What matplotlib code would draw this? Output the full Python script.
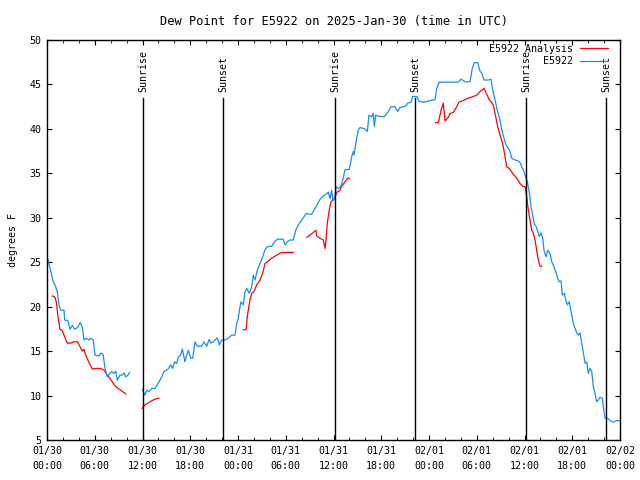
import pandas as pd
import matplotlib
matplotlib.use("Agg")
import matplotlib.pyplot as plt
import matplotlib.dates as mdates
from matplotlib.ticker import MultipleLocator
from matplotlib.transforms import blended_transform_factory

plt.rcParams['font.family'] = ['DejaVu Sans Mono']
plt.rcParams['font.size'] = 7.2

start = pd.Timestamp("2025-01-30 00:00")

# observed dew point (hours since 01/30 00:00 UTC, degrees F)
obs1_h = [0.0, 0.13, 0.54, 0.75, 1.09, 1.29, 1.51, 1.72, 2.14, 2.22, 2.64, 2.89, 3.18, 3.48,
          3.89, 4.15, 4.44, 4.65, 4.94, 5.28, 5.49, 5.82, 6.03, 6.53, 6.82, 7.07, 7.29, 7.58,
          7.92, 8.13, 8.42, 8.63, 8.83, 9.17, 9.46, 9.68, 9.89, 10.18, 10.39]
obs1_v = [25.7, 25.3, 23.75, 22.9, 22.25, 21.7, 20.2, 19.6, 19.6, 18.5, 18.4, 17.45, 17.9, 17.45,
          17.7, 18.2, 17.7, 16.25, 16.45, 16.25, 16.45, 16.25, 14.55, 14.45, 14.8, 14.55, 13.05, 12.1,
          12.5, 12.7, 12.5, 12.75, 11.75, 12.3, 12.3, 12.55, 12.1, 12.3, 12.6]

obs2_h = [11.98, 12.31, 12.53, 12.82, 13.16, 13.57, 13.99, 14.41, 14.70, 15.24, 15.54, 15.80,
          16.0, 16.30, 16.50, 16.80, 17.0, 17.34, 17.55, 17.76, 18.06, 18.31, 18.60, 18.89,
          19.44, 19.73, 20.07, 20.36, 20.61, 20.90, 21.11, 21.40, 21.65, 21.95, 22.37, 22.78,
          23.21, 23.62, 23.84, 24.04, 24.25, 24.38, 24.67, 24.88, 25.09, 25.42, 25.72, 25.92,
          26.14, 26.43, 26.77, 27.10, 27.39, 27.68, 28.24, 28.52, 28.94, 29.69, 29.91, 30.20,
          30.54, 30.95, 31.25, 31.58, 32.01, 32.29, 32.55, 32.84, 33.26, 33.55, 33.89, 34.30,
          34.72, 35.15, 35.35, 35.56, 35.78, 35.90, 36.19, 36.32, 36.60, 36.91, 37.16, 37.45,
          37.99, 38.29, 38.49, 38.58, 38.83, 39.12, 39.33, 39.96, 40.25, 40.46, 40.80, 41.00,
          41.13, 41.30, 41.55, 42.38, 42.89, 43.23, 43.73, 44.07, 44.36, 44.77, 45.11, 45.33,
          45.74, 45.95, 46.46, 46.75, 47.29, 47.84, 48.25, 48.76, 48.97, 49.26, 51.68, 52.02,
          52.53, 53.15, 53.44, 53.69, 54.12, 54.41, 54.62, 54.91, 55.45, 55.79, 56.01, 56.30,
          56.58, 56.92, 57.14, 57.34, 57.68, 57.97, 58.18, 58.40, 58.81, 59.22, 59.53, 59.65,
          59.85, 60.07, 60.36, 60.61, 60.82, 61.03, 61.24, 61.45, 61.66, 61.86, 62.08, 62.29,
          62.45, 62.71, 62.92, 63.21, 63.42, 63.71, 63.96, 64.34, 64.59, 64.75, 65.0, 65.18,
          65.38, 65.63, 65.93, 66.13, 66.35, 66.56, 66.76, 66.98, 67.19, 67.39, 67.61, 67.82,
          68.02, 68.23, 68.45, 68.65, 68.86, 69.07, 69.28, 69.49, 69.78, 69.91, 70.12, 70.46,
          70.75, 71.16, 71.59, 72.0]
obs2_v = [10.7, 10.05, 10.6, 10.45, 10.8, 10.8, 11.4, 12.1, 12.7, 13.0, 13.45, 13.05,
          13.8, 13.6, 14.35, 14.55, 15.25, 13.8, 14.55, 15.1, 14.2, 14.2, 16.05, 15.55,
          15.55, 16.05, 15.55, 16.3, 15.9, 16.05, 16.25, 16.5, 15.7, 16.25, 16.25, 16.45,
          16.8, 16.8, 18.1, 18.7, 20.0, 20.55, 20.2, 21.7, 22.05, 21.5, 22.25, 23.55,
          23.0, 24.1, 24.85, 25.6, 26.4, 26.75, 26.8, 27.2, 27.6, 27.6, 26.95, 27.3,
          27.5, 27.5, 28.6, 29.2, 29.75, 30.1, 30.5, 30.4, 30.4, 30.85, 31.4, 32.05,
          32.45, 32.7, 32.9, 32.15, 33.1, 32.0, 32.15, 33.5, 33.3, 33.5, 34.25, 35.4,
          35.45, 36.9, 37.45, 37.05, 38.55, 39.85, 40.15, 40.0, 39.7, 41.55, 41.35, 41.75,
          40.3, 41.55, 41.45, 41.35, 41.95, 42.5, 42.5, 41.95, 42.4, 42.5, 42.6, 42.9,
          43.0, 43.65, 43.65, 43.1, 43.0, 43.1, 43.2, 43.3, 44.55, 45.25, 45.25, 45.6,
          45.3, 45.3, 46.8, 47.45, 47.45, 46.5, 46.3, 45.5, 45.5, 45.6, 44.35, 43.25,
          42.1, 41.0, 39.95, 39.2, 38.2, 37.8, 37.45, 36.7, 36.5, 36.4, 36.1, 35.7,
          35.4, 34.8, 34.05, 32.75, 31.25, 30.3, 29.3, 29.05, 28.45, 27.9, 28.3, 27.7,
          26.35, 25.6, 26.35, 26.0, 25.05, 24.5, 23.8, 22.8, 22.9, 21.3, 21.5, 20.75,
          20.2, 20.55, 19.05, 18.1, 17.55, 17.05, 16.8, 17.05, 15.9, 14.75, 13.65, 13.75,
          12.5, 13.05, 12.7, 11.0, 10.25, 9.3, 9.5, 9.8, 9.7, 8.75, 7.45, 7.45,
          7.2, 7.0, 7.2, 7.15]

# analysis dew point segments
ana1_h = [0.67, 0.97, 1.17, 1.38, 1.63, 1.92, 2.22, 2.55, 2.98, 3.39, 3.81, 4.15, 4.44, 4.65,
          4.86, 5.28, 5.69, 6.25, 6.75, 7.16, 7.58, 8.0, 8.63, 9.26, 9.89]
ana1_v = [21.2, 21.1, 20.55, 18.9, 17.45, 17.3, 16.6, 15.9, 15.9, 16.05, 16.05, 15.5, 15.0, 15.2,
          14.55, 13.7, 13.0, 13.05, 13.05, 12.85, 12.3, 11.8, 11.0, 10.6, 10.2]
ana2_h = [11.95, 12.31, 12.94, 13.57, 14.07]
ana2_v = [8.55, 8.95, 9.3, 9.6, 9.7]
ana3_h = [24.67, 25.01, 25.17, 25.51, 25.72, 26.01, 26.35, 26.77, 27.10, 27.39, 27.68, 28.24,
          28.86, 29.49, 30.12, 30.95]
ana3_v = [17.4, 17.4, 18.9, 20.8, 21.5, 21.7, 22.45, 23.0, 23.75, 24.85, 25.05, 25.45,
          25.8, 26.1, 26.1, 26.1]
ana4_h = [32.63, 33.05, 33.39, 33.80, 33.89, 34.30, 34.72, 34.93, 35.06, 35.22, 35.47, 35.69,
          35.98, 36.19, 36.48, 36.82, 37.03, 37.45, 37.86, 37.99]
ana4_v = [27.8, 28.05, 28.3, 28.6, 27.95, 27.7, 27.5, 26.55, 27.5, 29.4, 30.9, 31.8,
          32.0, 32.4, 32.9, 33.1, 33.55, 34.05, 34.5, 34.4]
ana5_h = [48.84, 49.17, 49.51, 49.80, 50.01, 50.35, 50.64, 51.05, 51.48, 51.77, 52.31, 52.94,
          53.57, 54.0, 54.41, 54.91, 55.25, 55.58, 55.79, 56.08, 56.30, 56.58, 56.92, 57.26,
          57.55, 57.76, 58.09, 58.51, 59.02, 59.44, 59.78, 60.07, 60.28, 60.48, 60.69, 60.90,
          61.10, 61.32, 61.53, 61.74, 61.95, 62.16]
ana5_v = [40.7, 40.7, 42.1, 42.9, 40.9, 41.2, 41.7, 41.85, 42.5, 43.0, 43.2, 43.45,
          43.65, 43.8, 44.2, 44.55, 43.9, 43.25, 43.05, 42.7, 41.75, 40.45, 39.3, 38.35,
          36.9, 35.75, 35.55, 35.0, 34.45, 33.85, 33.55, 33.5, 32.35, 30.9, 29.75, 28.6,
          28.3, 27.5, 26.35, 25.25, 24.55, 24.55]

sun_h = [12.1, 22.15, 36.2, 46.25, 60.2, 70.25]
sun_lbl = ["Sunrise", "Sunset", "Sunrise", "Sunset", "Sunrise", "Sunset"]


def to_time(hours):
    return start + pd.to_timedelta(hours, unit="h")


fig = plt.figure(figsize=(6.4, 4.8), dpi=100)
ax = fig.add_axes([47 / 640, 40 / 480, 573 / 640, 400 / 480])

red = "#ff0000"
blue = "#1a8cff"

ana = [(ana1_h, ana1_v), (ana2_h, ana2_v), (ana3_h, ana3_v), (ana4_h, ana4_v), (ana5_h, ana5_v)]
for i, (h, v) in enumerate(ana):
    ax.plot(to_time(h), v, color=red, lw=0.9, label="E5922 Analysis" if i == 0 else None)
ax.plot(to_time(obs1_h), obs1_v, color=blue, lw=0.9, label="E5922")
ax.plot(to_time(obs2_h), obs2_v, color=blue, lw=0.9)

trans = blended_transform_factory(ax.transData, ax.transAxes)
for h, lbl in zip(sun_h, sun_lbl):
    t = to_time(h)
    ax.axvline(t, ymin=0, ymax=0.855, color="black", lw=1.0)
    ax.text(t, 0.87, lbl, transform=trans, rotation=90, ha="center", va="bottom")

ax.set_xlim(start, start + pd.Timedelta(hours=72))
ax.set_ylim(5, 50)
ax.xaxis.set_major_locator(mdates.HourLocator(byhour=[0, 6, 12, 18]))
ax.xaxis.set_minor_locator(mdates.HourLocator(byhour=range(0, 24, 2)))
ax.xaxis.set_major_formatter(mdates.DateFormatter("%m/%d\n%H:%M"))
ax.yaxis.set_major_locator(MultipleLocator(5))
ax.tick_params(which="both", direction="in", top=True, right=True)
ax.tick_params(which="major", length=3.5, pad=4)
ax.tick_params(which="minor", length=2)
plt.setp(ax.get_xticklabels(), linespacing=1.65)
for s in ax.spines.values():
    s.set_linewidth(1.0)

ax.set_ylabel("degrees F", labelpad=8)
ax.set_title("Dew Point for E5922 on 2025-Jan-30 (time in UTC)", pad=11)

ax.legend(loc="upper right", bbox_to_anchor=(0.986, 1.0), frameon=False, markerfirst=False,
          handlelength=2.8, handletextpad=0.7, borderaxespad=0.2, labelspacing=0.25,
          borderpad=0.2)

fig.savefig("out.png", dpi=100)
